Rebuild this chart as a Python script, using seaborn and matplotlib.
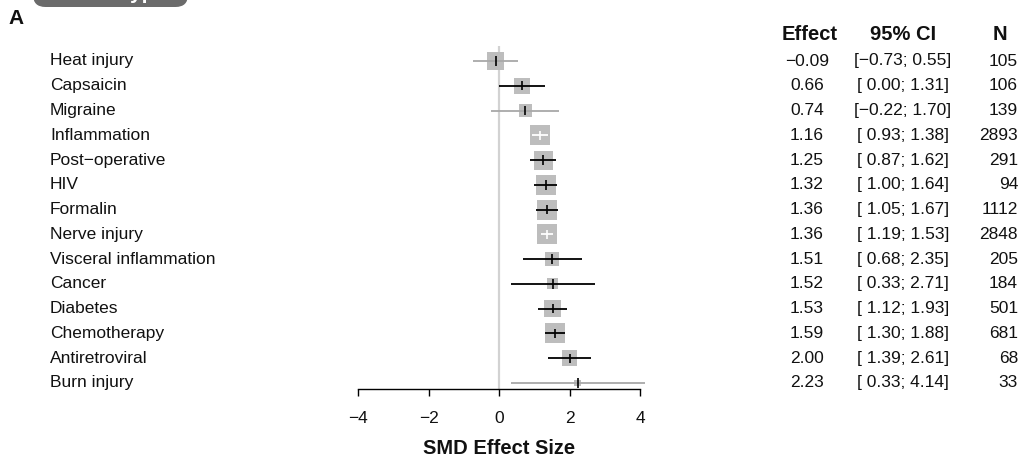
import numpy as np
import pandas as pd
import matplotlib
matplotlib.use("Agg")
import matplotlib.pyplot as plt
import seaborn as sns
from matplotlib.transforms import blended_transform_factory
from matplotlib.patches import FancyBboxPatch

# ---------------- data ----------------
categories = ["Heat injury", "Capsaicin", "Migraine", "Inflammation", "Post\u2212operative",
              "HIV", "Formalin", "Nerve injury", "Visceral inflammation", "Cancer",
              "Diabetes", "Chemotherapy", "Antiretroviral", "Burn injury"]
effect = [-0.09, 0.66, 0.74, 1.16, 1.25, 1.32, 1.36, 1.36, 1.51, 1.52, 1.53, 1.59, 2.00, 2.23]
ci_lower = [-0.73, 0.00, -0.22, 0.93, 0.87, 1.00, 1.05, 1.19, 0.68, 0.33, 1.12, 1.30, 1.39, 0.33]
ci_upper = [0.55, 1.31, 1.70, 1.38, 1.62, 1.64, 1.67, 1.53, 2.35, 2.71, 1.93, 1.88, 2.61, 4.14]
n_animals = [105, 106, 139, 2893, 291, 94, 1112, 2848, 205, 184, 501, 681, 68, 33]
weights = [7.3, 6.4, 4.2, 10.0, 9.1, 10.0, 10.0, 10.0, 4.9, 3.0, 7.3, 10.0, 6.4, 1.2]
x_ticks = [-4, -2, 0, 2, 4]
x_label = "SMD Effect Size"
col_headers = ["Effect", "95% CI", "N"]
panel_letter = "A"
panel_tab = "Pain Type"

# ---------------- styling ----------------
W, H, DPI = 1036, 459, 100
PX_PER_UNIT = (640 - 358) / 8.0
AREA_PER_WEIGHT = 39.86 * 0.5184          # points^2 per weight unit
grey_ci = {"Heat injury", "Migraine", "Burn injury"}

sns.set_theme(style="white")
plt.rcParams["font.family"] = ["Liberation Sans", "DejaVu Sans"]
plt.rcParams["text.color"] = "#111111"
plt.rcParams["axes.labelcolor"] = "#111111"
plt.rcParams["xtick.color"] = "#111111"

df = pd.DataFrame({"category": categories, "effect": effect, "lo": ci_lower,
                   "hi": ci_upper, "n": n_animals, "weight": weights})
df["row"] = np.arange(len(df))

fig = plt.figure(figsize=(W / DPI, H / DPI), dpi=DPI)
row_px0, row_step = 61.0, (383.0 - 61.0) / 13.0
axis_px = 389.0
top_row = -0.6
bottom_row = 13 + (axis_px - 383.0) / row_step
ax_top_px = row_px0 + top_row * row_step
ax = fig.add_axes([358 / W, 1 - axis_px / H, (640 - 358) / W, (axis_px - ax_top_px) / H])
ax.set_xlim(-4, 4)
ax.set_ylim(bottom_row, top_row)

# reference line at zero
ax.axvline(0, color="#d2d2d2", lw=1.6, zorder=0)

# boxes (area proportional to weight)
wmin, wmax = min(weights), max(weights)
sns.scatterplot(data=df, x="effect", y="row", size="weight",
                sizes=(wmin * AREA_PER_WEIGHT, wmax * AREA_PER_WEIGHT),
                size_norm=(wmin, wmax), marker="s", color="#bdbdbd",
                edgecolor="none", linewidth=0, legend=False, ax=ax, zorder=2,
                clip_on=False)

# CI lines and estimate ticks
half_box = np.sqrt(df["weight"] * 39.86) / 2 / PX_PER_UNIT
inside = (df["lo"] >= df["effect"] - half_box) & (df["hi"] <= df["effect"] + half_box)
line_cols = ["white" if ins else ("#a8a8a8" if c in grey_ci else "black")
             for c, ins in zip(df["category"], inside)]
mark_cols = ["white" if ins else "black" for ins in inside]
ax.hlines(df["row"], df["lo"], df["hi"], colors=line_cols, lw=1.3, zorder=3, clip_on=False)
ax.scatter(df["effect"], df["row"], marker="|", s=45, c=mark_cols, linewidths=1.2,
           zorder=4, clip_on=False)

# axes styling
for s in ["left", "right", "top"]:
    ax.spines[s].set_visible(False)
ax.spines["bottom"].set_color("black")
ax.spines["bottom"].set_linewidth(1.0)
ax.set_yticks([])
ax.set_xticks(x_ticks)
ax.tick_params(axis="x", direction="out", length=5, width=1.0, color="black",
               labelsize=12.5, pad=10.5, bottom=True)
ax.set_ylabel("")
ax.set_xlabel(x_label, fontsize=14.5, fontweight="bold", labelpad=10)
ax.grid(False)

# text columns
tr = blended_transform_factory(fig.transFigure, ax.transData)
def fmt(v, width=None):
    s = f"{v:{width}.2f}" if width else f"{v:.2f}"
    return s.replace("-", "\u2212")

for _, r in df.iterrows():
    y = r["row"]
    ax.text(50 / W, y, r["category"], transform=tr, ha="left", va="center", fontsize=12.5)
    ax.text(807 / W, y, fmt(r["effect"]), transform=tr, ha="center", va="center", fontsize=12.5)
    ax.text(903 / W, y, f"[{fmt(r['lo'], 5)}; {fmt(r['hi'])}]", transform=tr,
            ha="center", va="center", fontsize=12.5)
    ax.text(1018 / W, y, f"{int(r['n'])}", transform=tr, ha="right", va="center", fontsize=12.5)

hdr_y = (34 - row_px0) / row_step
for xpx, h in zip([810, 903, 1000], col_headers):
    ax.text(xpx / W, hdr_y, h, transform=tr, ha="center", va="center",
            fontsize=14.5, fontweight="bold")

# panel letter and clipped tab (the reference shows it cut off at the top edge)
fig.text(8 / W, 1 - 18 / H, panel_letter, fontsize=15, fontweight="bold",
         ha="left", va="center")
tab = FancyBboxPatch((33 / W, 1 - 7 / H), 155 / W, 0.08,
                     boxstyle="round,pad=0,rounding_size=0.012",
                     mutation_aspect=W / H, transform=fig.transFigure,
                     facecolor="#6b6b6b", edgecolor="none")
fig.add_artist(tab)
fig.text(118 / W, 1 + 1 / H, panel_tab, color="white", fontsize=15, fontweight="bold",
         ha="center", va="baseline")

fig.savefig("out.png", dpi=DPI, facecolor="white")
